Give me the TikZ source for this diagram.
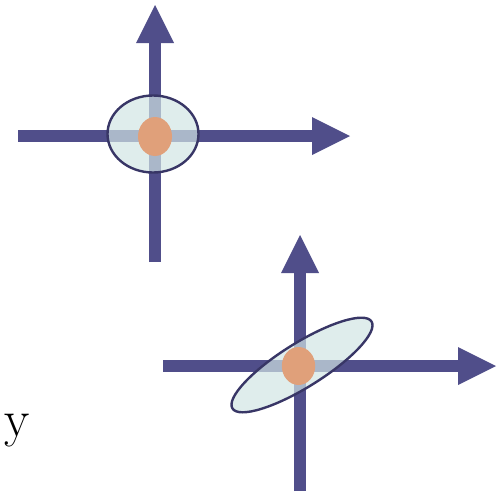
\documentclass[tikz,border=0pt]{standalone}
\usetikzlibrary{arrows.meta}
\definecolor{axisblue}{RGB}{80,78,138}
\definecolor{rimblue}{RGB}{56,54,102}
\definecolor{haze}{RGB}{209,229,228}
\definecolor{core}{RGB}{224,160,122}
\begin{document}
\begin{tikzpicture}[x=1pt,y=-1pt,
  axis/.style={draw=axisblue, line width=12.5pt},
  head/.style={fill=axisblue},
  cloud/.style={fill=haze, fill opacity=0.7, draw=rimblue, line width=2.4pt},
  blob/.style={fill=core}]
\useasboundingbox (0,0) rectangle (500,493);

% upper pair of axes
\draw[axis] (18,136) -- (313,136);
\fill[head] (312,117) -- (350,136) -- (312,155) -- cycle;
\draw[axis] (155,262) -- (155,42);
\fill[head] (136,43) -- (155,5) -- (174,43) -- cycle;

% round spread around the upper origin
\draw[cloud] (153,134) ellipse [x radius=45.5, y radius=38.5];
\fill[blob] (155,136.5) ellipse [x radius=17, y radius=19.5];

% lower pair of axes
\draw[axis] (163,366) -- (459,366);
\fill[head] (458,347) -- (496,366) -- (458,385) -- cycle;
\draw[axis] (300,491) -- (300,272);
\fill[head] (281,273) -- (300,235) -- (319,273) -- cycle;

% elongated, tilted spread around the lower origin
\begin{scope}[shift={(302,365)}, rotate=32]
  \draw[cloud] (0,0) ellipse [x radius=82, y radius=22];
\end{scope}
\fill[blob] (298.5,366) ellipse [x radius=16.7, y radius=19];

% axis letter
\node[anchor=base west, inner sep=0pt, font=\fontsize{52}{52}\selectfont] (ylabel) at (4,436) {y};
\end{tikzpicture}
\end{document}
